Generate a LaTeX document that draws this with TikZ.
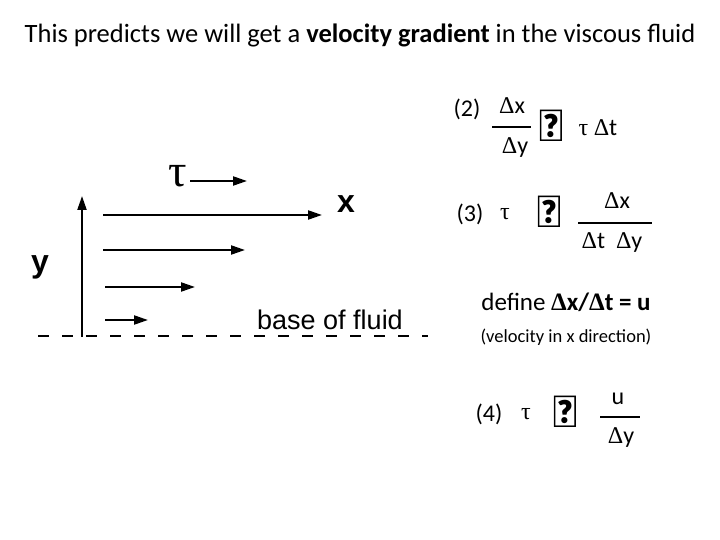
\documentclass[tikz,border=0pt]{standalone}
\usepackage{fontspec}
\setmainfont{Carlito}
\newfontfamily\arial{Liberation Sans}
\newfontfamily\sym{Liberation Serif}
\usetikzlibrary{arrows.meta}
\begin{document}
\begin{tikzpicture}[x=1pt,y=-1pt,
  flow/.style={line width=2.2pt,-{Triangle[length=14pt,width=9pt]}},
  eq/.style={font=\fontsize{24}{26}\selectfont},
  prop/.style={font=\fontsize{46}{46}\selectfont\bfseries},
  frac/.style={line width=2pt}]
\useasboundingbox (0,0) rectangle (720,540);
\node[font=\fontsize{26.5}{28}\selectfont] (title) at (360,35) {This predicts we will get a \textbf{velocity gradient} in the viscous fluid};
% left diagram
\node[font=\fontsize{46}{46}\selectfont\sym] (tau) at (178,176) {τ};
\coordinate (t1) at (190,181); \coordinate (t2) at (247,181);
\draw[flow] (t1) -- (t2);
\coordinate (v1) at (82,337); \coordinate (v2) at (82,196);
\draw[flow] (v1) -- (v2);
\coordinate (a1) at (103,215); \coordinate (a2) at (322,215);
\coordinate (b1) at (103,250); \coordinate (b2) at (245,250);
\coordinate (c1) at (105,287); \coordinate (c2) at (195,287);
\coordinate (d1) at (105,320); \coordinate (d2) at (148,320);
\draw[flow] (a1) -- (a2); \draw[flow] (b1) -- (b2);
\draw[flow] (c1) -- (c2); \draw[flow] (d1) -- (d2);
\node[font=\arial\bfseries\fontsize{32}{34}\selectfont] (xl) at (346,204) {x};
\node[font=\arial\bfseries\fontsize{32}{34}\selectfont] (yl) at (40,267) {y};
\coordinate (g1) at (38,336); \coordinate (g2) at (428,336);
\draw[line width=1.5pt,dash pattern=on 11pt off 13pt] (g1) -- (g2);
\node[font=\arial\fontsize{27}{29}\selectfont] (base) at (330,320) {base of fluid};
% eq 2
\node[eq] (n2) at (467,109) {(2)};
\node[eq] (dx2) at (512,106) {{\sym Δ}x};
\draw[frac] (492,127) -- (531,127);
\node[eq] (dy2) at (515,148) {{\sym Δ}y};
\node[prop] (p2) at (551,126) {∝};
\node[eq] (tdt) at (598,128) {{\sym τ} {\sym Δ}t};
% eq 3
\node[eq] (n3) at (470,214) {(3)};
\node[eq] (t3) at (505,214) {\sym τ};
\node[prop] (p3) at (549,212) {∝};
\node[eq] (dx3) at (617,201) {{\sym Δ}x};
\draw[frac] (578,223) -- (652,223);
\node[eq] (dtdy) at (612,243) {{\sym Δ}t\ \ {\sym Δ}y};
% define
\node[font=\fontsize{25}{27}\selectfont] (def) at (566,302) {define \textbf{{\sym Δ}x/{\sym Δ}t = u}};
\node[font=\fontsize{18.5}{20}\selectfont] (vel) at (566,337) {(velocity in x direction)};
% eq 4
\node[eq] (n4) at (489,414) {(4)};
\node[eq] (t4) at (526,414) {\sym τ};
\node[prop] (p4) at (565,412) {∝};
\node[eq] (u4) at (618,399) {u};
\draw[frac] (600,417) -- (640,417);
\node[eq] (dy4) at (621,438) {{\sym Δ}y};
\end{tikzpicture}
\end{document}
